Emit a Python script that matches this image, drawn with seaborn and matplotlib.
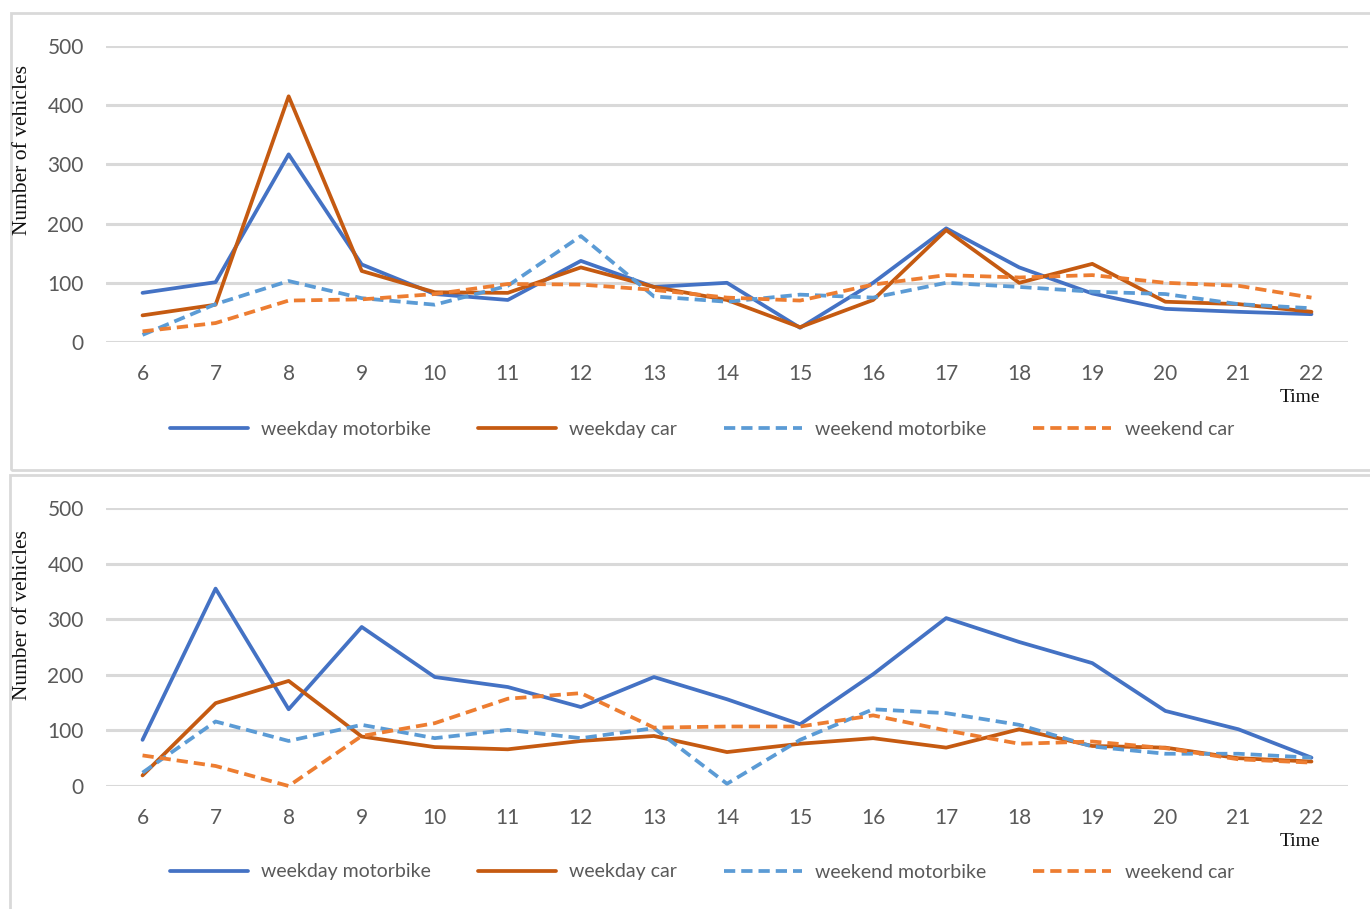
import pandas as pd
import matplotlib.pyplot as plt
import seaborn as sns
from matplotlib.patches import Rectangle

# Hour of day on the x axis
hours = list(range(6, 23))
series_names = ['weekday motorbike', 'weekday car', 'weekend motorbike', 'weekend car']

# Upper chart
top_weekday_motorbike = [83, 101, 317, 131, 81, 71, 137, 93, 100, 24, 100, 192, 126, 82, 56, 51, 47]
top_weekday_car = [45, 63, 415, 120, 84, 83, 126, 93, 71, 25, 71, 189, 100, 132, 68, 64, 51]
top_weekend_motorbike = [12, 64, 103, 74, 63, 95, 179, 77, 68, 80, 75, 100, 93, 85, 81, 64, 57]
top_weekend_car = [18, 32, 70, 72, 81, 98, 97, 88, 75, 70, 97, 113, 109, 113, 100, 95, 75]

# Lower chart
bot_weekday_motorbike = [83, 355, 138, 286, 196, 178, 142, 196, 156, 111, 201, 302, 259, 221, 135, 102, 51]
bot_weekday_car = [19, 149, 189, 89, 70, 66, 81, 90, 61, 76, 86, 69, 102, 72, 69, 50, 44]
bot_weekend_motorbike = [24, 116, 81, 110, 86, 101, 86, 104, 4, 83, 138, 131, 110, 71, 58, 58, 51]
bot_weekend_car = [55, 36, 0, 90, 113, 157, 167, 105, 107, 107, 127, 100, 76, 80, 68, 48, 42]

palette = {'weekday motorbike': '#4472C4', 'weekday car': '#C55A11',
           'weekend motorbike': '#5B9BD5', 'weekend car': '#ED7D31'}
dashes = {'weekday motorbike': '', 'weekday car': '',
          'weekend motorbike': (3, 1.6), 'weekend car': (3, 1.6)}

sans = ['Liberation Sans Narrow', 'Lato', 'DejaVu Sans']
serif = ['Liberation Serif', 'DejaVu Serif']
grey = '#595959'
grid_col = '#d9d9d9'


def make_df(values):
    rows = []
    for name, vals in zip(series_names, values):
        for h, v in zip(hours, vals):
            rows.append({'hour': h, 'vehicles': v, 'series': name})
    return pd.DataFrame(rows)


sns.set_style('white')
fig = plt.figure(figsize=(13.7, 9.09), dpi=100)
W, H = 1370, 909

# panel frames
fig.patches.append(Rectangle((11 / W, 1 - 470 / H), 1.0, (470 - 13) / H,
                             transform=fig.transFigure, fill=False, ec=grid_col, lw=2))
fig.patches.append(Rectangle((10 / W, -0.05), 1.0, 0.05 + 1 - 475 / H,
                             transform=fig.transFigure, fill=False, ec=grid_col, lw=2))

panels = [
    (make_df([top_weekday_motorbike, top_weekday_car, top_weekend_motorbike, top_weekend_car]),
     46, 342, 150, 398, 429),
    (make_df([bot_weekday_motorbike, bot_weekday_car, bot_weekend_motorbike, bot_weekend_car]),
     508, 786, 615, 842, 872),
]

for df, y_top, y_bot, ylab_y, time_y, leg_y in panels:
    ax = fig.add_axes([106 / W, 1 - y_bot / H, (1348 - 106) / W, (y_bot - y_top) / H])
    sns.lineplot(data=df, x='hour', y='vehicles', hue='series', style='series',
                 palette=palette, dashes=dashes, hue_order=series_names,
                 style_order=series_names, linewidth=2.7, legend=False, ax=ax)
    for ln in ax.get_lines():
        ln.set_clip_on(False)
        ln.set_solid_joinstyle('round')

    ax.set_xlim(5.5, 22.5)
    ax.set_ylim(0, 500)
    ax.set_xticks(hours)
    ax.set_yticks(range(0, 501, 100))
    ax.set_xlabel('')
    ax.set_ylabel('')
    for s in ax.spines.values():
        s.set_visible(False)
    ax.yaxis.grid(True, color=grid_col, lw=2.2)
    ax.set_axisbelow(True)
    ax.tick_params(length=0, labelsize=15, labelcolor=grey, pad=16)
    for lab in ax.get_xticklabels() + ax.get_yticklabels():
        lab.set_family(sans)

    fig.text(23 / W, 1 - ylab_y / H, 'Number of vehicles', rotation=90, ha='center',
             va='center', fontsize=15.5, family=serif, color='#111111')
    fig.text(1300 / W, 1 - time_y / H, 'Time', ha='center', va='center',
             fontsize=14, family=serif, color='#111111')

    leg = ax.legend(ax.get_lines(), series_names, loc='center',
                    bbox_to_anchor=(702 / W, 1 - leg_y / H), bbox_transform=fig.transFigure,
                    ncol=4, frameon=False, handlelength=4.0, handletextpad=0.7,
                    columnspacing=2.4, prop={'family': sans, 'size': 14})
    for t in leg.get_texts():
        t.set_color(grey)

fig.savefig('out.png', dpi=100)
